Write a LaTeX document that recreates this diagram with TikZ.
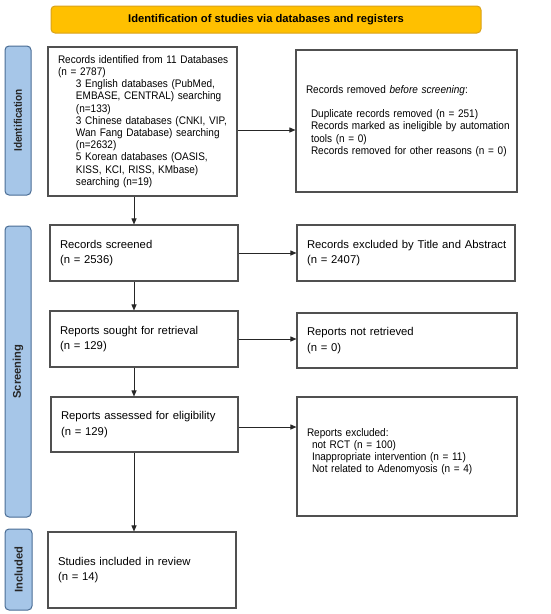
\documentclass[tikz,border=0pt]{standalone}
\usepackage{fontspec}
\setmainfont{Liberation Sans}
\newfontfamily\condfont[FakeStretch=0.91]{Liberation Sans}
\usetikzlibrary{arrows.meta}
\definecolor{titlefill}{HTML}{FFC000}
\definecolor{titleline}{HTML}{D9A21B}
\definecolor{labfill}{HTML}{A6C6E8}
\definecolor{labline}{HTML}{4A6D95}
\definecolor{boxline}{HTML}{505050}
\newcommand{\padl}{\leftskip=10pt\relax\hyphenpenalty=10000\relax}
\begin{document}
\begin{tikzpicture}[x=1pt,y=-1pt,
  flowbox/.style={draw=boxline, line width=1.1pt, fill=white, align=left,
    inner xsep=0pt, inner ysep=0pt,
    text width=#1, minimum width=#1},
  condtext/.style={font=\condfont\fontsize{11}{12.2}\selectfont},
  plaintext/.style={font=\fontsize{11.3}{15.5}\selectfont},
  phase/.style={draw=labline, line width=1pt, fill=labfill, rounded corners=4pt,
    rotate=90, inner sep=0pt, font=\bfseries\fontsize{11.2}{13}\selectfont, text=black!85},
  arr/.style={draw=black!85, line width=0.9pt, -{Triangle[length=6pt,width=5pt]}}]
\useasboundingbox (0,0) rectangle (550,614);
% title
\node[draw=titleline, line width=1pt, fill=titlefill, rounded corners=4pt,
  minimum width=430pt, minimum height=27pt, inner sep=0pt,
  font=\bfseries\fontsize{11.2}{13}\selectfont] (title) at (266,19.5)
  {Identification of studies via databases and registers};
% phase labels
\node[phase, minimum width=149pt, minimum height=26pt,
  font=\condfont\bfseries\fontsize{11}{13}\selectfont] (lid) at (18,120.5) {Identification};
\node[phase, minimum width=291pt, minimum height=26pt] (lsc) at (18,371.5) {Screening};
\node[phase, minimum width=81pt, minimum height=27pt] (lin) at (18.5,569.5) {Included};
% boxes
\node[flowbox=189pt, condtext, minimum height=149pt] (b1) at (142.5,121.5)
  {\padl Records identified from 11 Databases\\
   (n = 2787)\\
   \hspace*{18pt}3 English databases (PubMed,\\
   \hspace*{18pt}EMBASE, CENTRAL) searching\\
   \hspace*{18pt}(n=133)\\
   \hspace*{18pt}3 Chinese databases (CNKI, VIP,\\
   \hspace*{18pt}Wan Fang Database) searching\\
   \hspace*{18pt}(n=2632)\\
   \hspace*{18pt}5 Korean databases (OASIS,\\
   \hspace*{18pt}KISS, KCI, RISS, KMbase)\\
   \hspace*{18pt}searching (n=19)\par};
\node[flowbox=221pt, condtext, minimum height=142pt] (b2) at (406.5,121)
  {\padl Records removed \textit{before screening}:\\
   \mbox{}\\
   \hspace*{5pt}Duplicate records removed (n = 251)\\
   \hspace*{5pt}Records marked as ineligible by automation\\
   \hspace*{5pt}tools (n = 0)\\
   \hspace*{5pt}Records removed for other reasons (n = 0)\par};
\node[flowbox=188pt, plaintext, minimum height=56pt] (b3) at (144,253)
  {\padl Records screened\\(n = 2536)\par};
\node[flowbox=218pt, plaintext, minimum height=56pt] (b4) at (406,253)
  {\padl Records excluded by Title and Abstract\\(n = 2407)\par};
\node[flowbox=188pt, plaintext, minimum height=56pt] (b5) at (144,339)
  {\padl Reports sought for retrieval\\(n = 129)\par};
\node[flowbox=220pt, plaintext, minimum height=55pt] (b6) at (407,340.5)
  {\padl Reports not retrieved\\(n = 0)\par};
\node[flowbox=187pt, plaintext, minimum height=55pt] (b7) at (144.5,424.5)
  {\padl Reports assessed for eligibility\\(n = 129)\par};
\node[flowbox=220pt, condtext, minimum height=119pt] (b8) at (407,456.5)
  {\padl Reports excluded:\\
   \hspace*{5pt}not RCT (n = 100)\\
   \hspace*{5pt}Inappropriate intervention (n = 11)\\
   \hspace*{5pt}Not related to Adenomyosis (n = 4)\\
   \mbox{}\par};
\node[flowbox=188pt, plaintext, minimum height=76pt] (b9) at (142,570)
  {\padl Studies included in review\\(n = 14)\par};
% connectors
\coordinate (ax) at (134,0);
\coordinate (r1) at (0,130);
\draw[arr] (b1.east |- r1) -- (b2.west |- r1);
\draw[arr] (b3.east) -- (b3.east -| b4.west);
\draw[arr] (b5.east) -- (b5.east -| b6.west);
\coordinate (r4) at (0,427);
\draw[arr] (b7.east |- r4) -- (b8.west |- r4);
\draw[arr] (b1.south -| ax) -- (b3.north -| ax);
\draw[arr] (b3.south -| ax) -- (b5.north -| ax);
\draw[arr] (b5.south -| ax) -- (b7.north -| ax);
\draw[arr] (b7.south -| ax) -- (b9.north -| ax);
\end{tikzpicture}
\end{document}
